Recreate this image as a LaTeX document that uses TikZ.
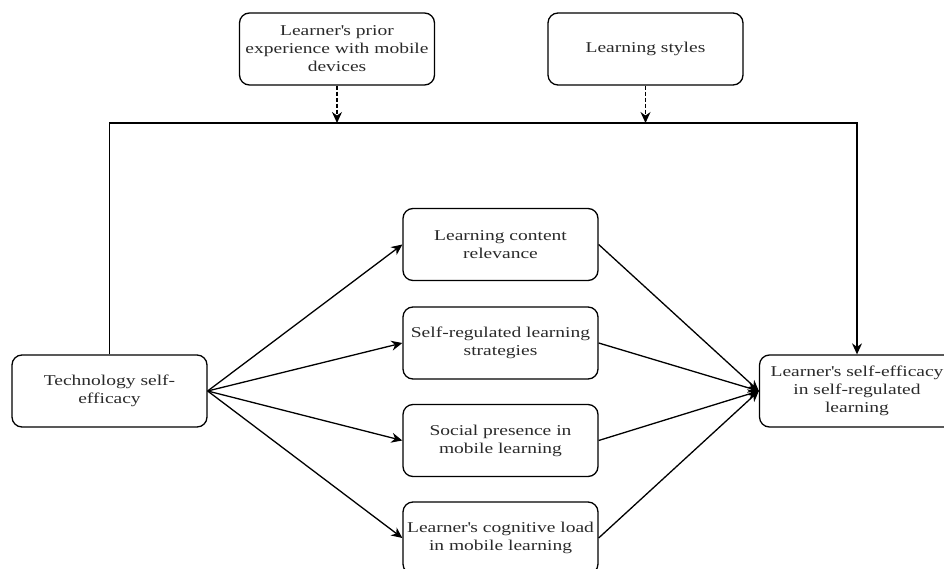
\documentclass[tikz,border=0pt]{standalone}
\usepackage{fontspec}
\setmainfont{Liberation Serif}[FakeStretch=1.3]
\usepackage{tikz}
\usetikzlibrary{arrows.meta, positioning, calc}
\definecolor{inkgray}{HTML}{2A2A2A}
\newcommand{\apos}{\textquotesingle}

\begin{document}
\begin{tikzpicture}[
    x=1pt, y=-1pt,
    box/.style={draw, line width=1.3pt, rounded corners=10pt, minimum width=195pt,
        minimum height=72pt, align=center, text=inkgray,
        font=\fontsize{15}{18}\selectfont},
    link/.style={line width=1.3pt, -{Stealth[length=11pt, width=10pt]}},
    dashlink/.style={link, dash pattern=on 4pt off 2pt}
]
    \useasboundingbox (0,0) rectangle (944,569);
    \clip (0,0) rectangle (944,569);

    % Moderators
    \node[box] (pex) at (337,49) {Learner\apos s prior\\experience with mobile\\devices};
    \node[box] (lst) at (645.5,49) {Learning styles};

    % Independent and dependent variables
    \node[box] (tse) at (109.5,391) {Technology self-\\efficacy};
    \node[box] (rse) at (857,391) {Learner\apos s self-efficacy\\in self-regulated\\learning};

    % Mediators
    \node[box] (lcr) at (500.5,244.5) {Learning content\\relevance};
    \node[box] (srl) at (500.5,343)   {Self-regulated learning\\strategies};
    \node[box] (spm) at (500.5,440.5) {Social presence in\\mobile learning};
    \node[box] (clm) at (500.5,538)   {Learner\apos s cognitive load\\in mobile learning};

    % Direct path over the top
    \coordinate (bus) at (0,123);
    \draw[link] (tse.north) |- (bus -| rse.north) -- (rse.north);

    % Moderating effects
    \coordinate (pexhit) at (bus -| pex.south);
    \coordinate (lsthit) at (bus -| lst.south);
    \draw[dashlink] (pex.south) -- (pexhit);
    \draw[dashlink] (lst.south) -- (lsthit);

    % Mediated paths
    \foreach \m in {lcr, srl, spm, clm} {
        \draw[link] (tse.east) -- (\m.west);
        \draw[link] (\m.east) -- (rse.west);
    }

\end{tikzpicture}
\end{document}
